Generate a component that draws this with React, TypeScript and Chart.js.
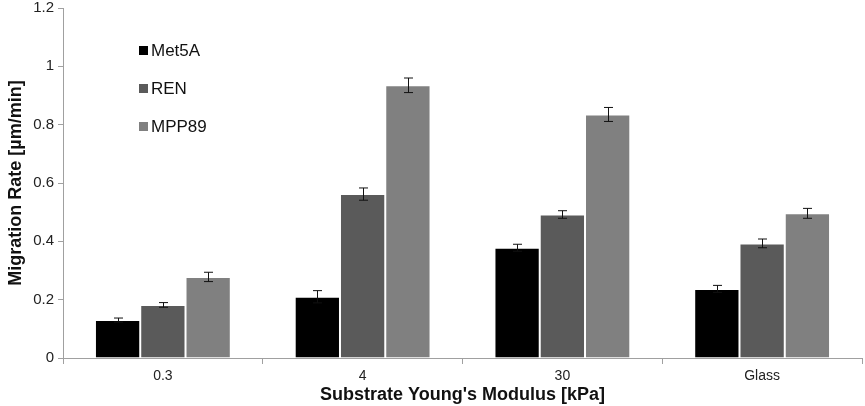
import React, { useEffect, useRef } from 'react';
import { Chart, registerables, Plugin } from 'chart.js';

Chart.register(...registerables);

const categories = ['0.3', '4', '30', 'Glass'];
const met5a = [0.13, 0.21, 0.378, 0.237];
const met5aErr = [0.007, 0.021, 0.012, 0.012];
const ren = [0.182, 0.562, 0.492, 0.393];
const renErr = [0.008, 0.021, 0.013, 0.015];
const mpp89 = [0.278, 0.935, 0.835, 0.496];
const mpp89Err = [0.016, 0.025, 0.024, 0.017];
const yTicks = [0, 0.2, 0.4, 0.6, 0.8, 1, 1.2];

const FONT = '"Liberation Sans", Arial, sans-serif';

// whiskers drawn through the value scale
const errorBars: Plugin<'bar'> = {
  id: 'errorBars',
  afterDatasetsDraw(chart) {
    const { ctx } = chart;
    const y = chart.scales.y;
    ctx.save();
    ctx.strokeStyle = '#111';
    ctx.lineWidth = 1;
    chart.data.datasets.forEach((ds: any, i) => {
      const meta = chart.getDatasetMeta(i);
      meta.data.forEach((bar: any, j) => {
        const v = ds.data[j] as number;
        const e = ds.errors[j] as number;
        const top = y.getPixelForValue(v + e);
        const bot = y.getPixelForValue(v - e);
        const x = Math.round(bar.x) + 0.5;
        ctx.beginPath();
        ctx.moveTo(x, top);
        ctx.lineTo(x, bot);
        ctx.moveTo(x - 4.5, top);
        ctx.lineTo(x + 4.5, top);
        ctx.moveTo(x - 4.5, bot);
        ctx.lineTo(x + 4.5, bot);
        ctx.stroke();
      });
    });
    ctx.restore();
  },
};

// legend floating inside the plot, upper left
const floatLegend: Plugin<'bar'> = {
  id: 'floatLegend',
  afterDraw(chart) {
    const { ctx } = chart;
    ctx.save();
    ctx.font = `17px ${FONT}`;
    ctx.textBaseline = 'middle';
    chart.data.datasets.forEach((ds: any, i) => {
      const cy = 50 + i * 38;
      ctx.fillStyle = ds.backgroundColor;
      ctx.fillRect(139, cy - 4, 9, 9);
      ctx.fillStyle = '#111';
      ctx.fillText(ds.label, 151, cy + 1);
    });
    ctx.restore();
  },
};

const App: React.FC = () => {
  const canvasRef = useRef<HTMLCanvasElement | null>(null);
  const chartRef = useRef<Chart | null>(null);

  useEffect(() => {
    if (!canvasRef.current) return;
    if (chartRef.current) chartRef.current.destroy();

    const mk = (label: string, data: number[], errors: number[], color: string) => ({
      label,
      data,
      errors,
      backgroundColor: color,
      borderColor: '#ffffff',
      borderWidth: 1,
      categoryPercentage: 0.68,
      barPercentage: 1,
    });

    chartRef.current = new Chart(canvasRef.current, {
      type: 'bar',
      data: {
        labels: categories,
        datasets: [
          mk('Met5A', met5a, met5aErr, '#000000'),
          mk('REN', ren, renErr, '#5a5a5a'),
          mk('MPP89', mpp89, mpp89Err, '#808080'),
        ] as any,
      },
      options: {
        animation: false,
        responsive: true,
        maintainAspectRatio: false,
        layout: { padding: { top: 8, right: 3, left: 2, bottom: 0 } },
        plugins: {
          legend: { display: false },
          tooltip: { enabled: false },
        },
        scales: {
          x: {
            grid: {
              display: true,
              drawOnChartArea: false,
              color: '#a0a0a0',
              tickLength: 6,
              offset: true,
            },
            border: { color: '#a0a0a0', width: 1 },
            ticks: { color: '#222', font: { family: FONT, size: 14 }, padding: 4 },
            title: {
              display: true,
              text: "Substrate Young's Modulus [kPa]",
              color: '#111',
              font: { family: FONT, size: 18, weight: 'bold' },
              padding: { top: 0, bottom: 0 },
            },
            afterFit: (s: any) => {
              s.height = 48;
            },
          },
          y: {
            min: 0,
            max: 1.2,
            afterBuildTicks: (s: any) => {
              s.ticks = yTicks.map((v) => ({ value: v }));
            },
            grid: {
              display: true,
              drawOnChartArea: false,
              color: '#a0a0a0',
              tickLength: 5,
            },
            border: { color: '#a0a0a0', width: 1 },
            ticks: {
              color: '#222',
              font: { family: FONT, size: 15 },
              padding: 4,
              callback: (v: any) => String(Number(v)),
            },
            title: {
              display: true,
              text: 'Migration Rate [µm/min]',
              color: '#111',
              font: { family: FONT, size: 18, weight: 'bold' },
              padding: { top: 3, bottom: 2 },
            },
            afterFit: (s: any) => {
              s.width = 61;
              s.paddingTop = 0;
              s.paddingBottom = 0;
            },
          },
        },
      },
      plugins: [errorBars, floatLegend],
    });

    return () => {
      if (chartRef.current) {
        chartRef.current.destroy();
        chartRef.current = null;
      }
    };
  }, []);

  return (
    <div style={{ position: 'fixed', left: 0, top: 0, width: 865, height: 406, background: '#fff' }}>
      <canvas ref={canvasRef} />
    </div>
  );
};

export default App;
